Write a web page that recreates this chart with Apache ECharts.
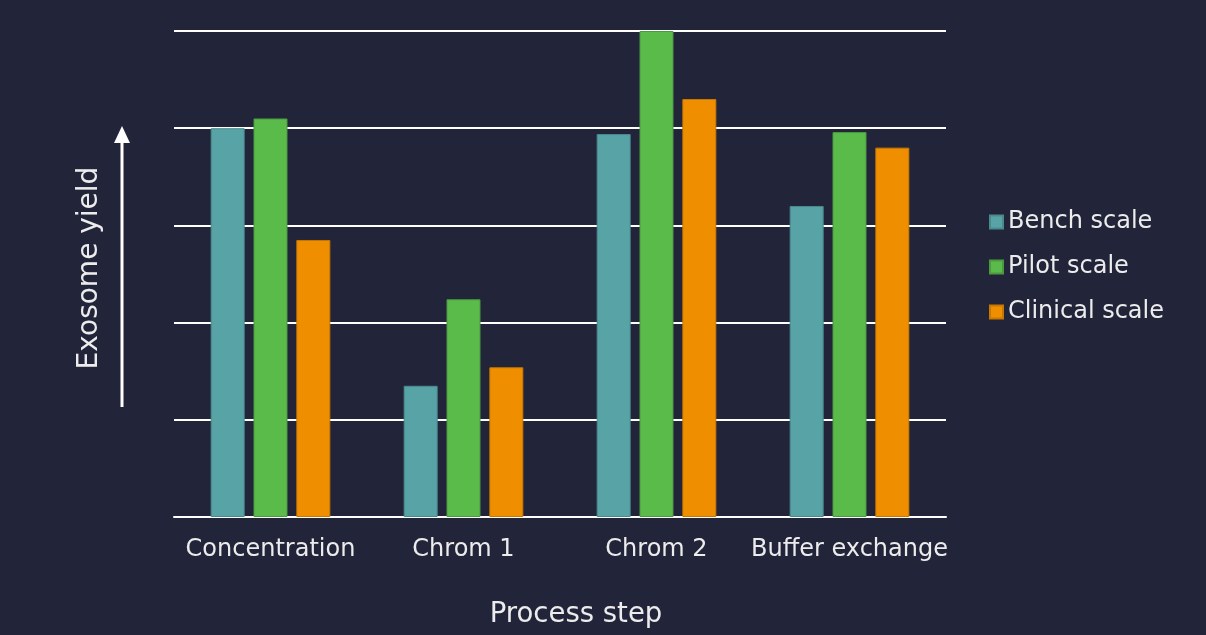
<!DOCTYPE html>
<html><head><meta charset="utf-8">
<script src="https://cdn.jsdelivr.net/npm/echarts@6/dist/echarts.min.js"></script>
<style>html,body{margin:0;padding:0;background:#22243a;}#c{width:1206px;height:635px;}</style>
</head><body><div id="c"></div>
<script>
const categories = ['Concentration', 'Chrom 1', 'Chrom 2', 'Buffer exchange'];
const benchScale = [4.0, 1.35, 3.94, 3.2];
const pilotScale = [4.1, 2.24, 5.0, 3.96];
const clinicalScale = [2.85, 1.54, 4.3, 3.8];

const FONT = 'DejaVu Sans';
const TXT = '#ececec';
const chart = echarts.init(document.getElementById('c'));
chart.setOption({
  backgroundColor: '#22243a',
  animation: false,
  textStyle: { fontFamily: FONT },
  grid: { left: 174, right: 260, top: 31, bottom: 118 },
  legend: {
    orient: 'vertical', left: 984, top: 205, itemWidth: 13, itemHeight: 13, itemGap: 21,
    textStyle: { color: TXT, fontSize: 24, fontFamily: FONT },
    icon: 'rect',
    data: ['Bench scale', 'Pilot scale', 'Clinical scale']
  },
  xAxis: {
    type: 'category', data: categories,
    name: 'Process step', nameLocation: 'middle', nameGap: 84,
    nameTextStyle: { color: TXT, fontSize: 27.5, fontFamily: FONT, padding: [0, 0, 0, 32] },
    axisLine: { show: true, lineStyle: { color: '#ffffff', width: 2 } },
    axisTick: { show: false },
    axisLabel: { color: TXT, fontSize: 24, margin: 21, interval: 0, hideOverlap: false, fontFamily: FONT }
  },
  yAxis: {
    type: 'value', min: 0, max: 5, interval: 1,
    axisLabel: { show: false }, axisLine: { show: false }, axisTick: { show: false },
    splitLine: { lineStyle: { color: '#ffffff', width: 2 } }
  },
  graphic: [
    { type: 'text', rotation: Math.PI / 2,
      x: 90, y: 268, style: { text: 'Exosome yield', fill: TXT, fontSize: 28, fontFamily: FONT, align: 'center', verticalAlign: 'middle' } },
    { type: 'line', shape: { x1: 122, y1: 407, x2: 122, y2: 140 }, style: { stroke: '#ffffff', lineWidth: 3 } },
    { type: 'polygon', shape: { points: [[114, 143], [130, 143], [122, 126]] }, style: { fill: '#ffffff' } }
  ],
  series: [
    { name: 'Bench scale', type: 'bar', data: benchScale, barWidth: 34, barGap: '26%',
      itemStyle: { color: '#57a3a6', borderColor: '#4a8a8e', borderWidth: 1 } },
    { name: 'Pilot scale', type: 'bar', data: pilotScale, barWidth: 34, barGap: '26%',
      itemStyle: { color: '#5aba4a', borderColor: '#4c9a40', borderWidth: 1 } },
    { name: 'Clinical scale', type: 'bar', data: clinicalScale, barWidth: 34, barGap: '26%',
      itemStyle: { color: '#ef8f00', borderColor: '#c87800', borderWidth: 1 } }
  ]
});
</script></body></html>
